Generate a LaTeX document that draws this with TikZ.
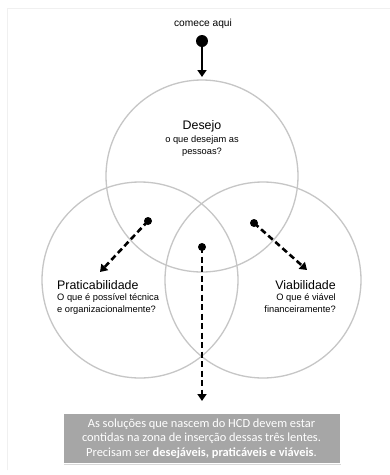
\documentclass[tikz,border=0pt]{standalone}
\usepackage{fontspec}
\setmainfont{Liberation Sans}
\newfontfamily\boxfont{Carlito}
\usetikzlibrary{arrows.meta,shadows}
\begin{document}
\begin{tikzpicture}[x=1pt,y=-1pt,
  lens/.style={draw=gray!45,line width=1.3pt},
  flow/.style={line width=2.6pt,-{Triangle[length=7pt,width=9pt]}},
  dflow/.style={flow,dash pattern=on 6pt off 3.5pt},
  startdot/.style={circle,fill=black,inner sep=0pt,minimum size=#1},
  title/.style={font=\fontsize{12.4}{14}\selectfont,inner sep=0pt},
  sub/.style={font=\fontsize{9.3}{12}\selectfont,inner sep=0pt},
  note/.style={fill=gray!70!white,draw=white,line width=0.8pt,
    drop shadow={shadow xshift=1pt,shadow yshift=-1.5pt,fill=gray!50,opacity=0.6},
    text=white,font=\boxfont\fontsize{12.4}{14.5}\selectfont,
    align=center,minimum width=277pt,minimum height=50pt,inner sep=2pt}]
\useasboundingbox (0,0) rectangle (390,475);
\fill[white] (0,0) rectangle (390,475);
% page frame
\draw[gray!12,line width=0.8pt] (7,470) -- (7,8) -- (390,8);

% the three lenses
\draw[lens] (202,176) circle[radius=96];
\draw[lens] (140,280) circle[radius=98];
\draw[lens] (263,280) circle[radius=98];

% labels
\node[font=\fontsize{10.2}{12}\selectfont,inner sep=0pt] (start) at (203,24) {comece aqui};
\node[title] (desejo) at (202,126) {Desejo};
\node[sub,align=center] (desejosub) at (202,146) {o que desejam as\\pessoas?};
\node[title,anchor=west] (prat) at (57,285) {Praticabilidade};
\node[sub,align=left,anchor=north west] (pratsub) at (57,293.5) {O que é possível técnica\\e organizacionalmente?};
\node[title,anchor=east] (viab) at (336,285) {Viabilidade};
\node[sub,align=right,anchor=north east] (viabsub) at (336,293.5) {O que é viável\\financeiramente?};

% start markers and arrow ends
\node[startdot=12pt] (d0) at (202,41) {};
\coordinate (t0) at (202,77);
\node[startdot=8pt] (d1) at (148,221) {};
\coordinate (t1) at (100,272);
\node[startdot=8pt] (d2) at (254,223) {};
\coordinate (t2) at (307,270);
\node[startdot=8pt] (d3) at (202,247) {};
\coordinate (t3) at (202,401);

\draw[flow] (d0.center) -- (t0);
\draw[dflow] (d1.center) -- (t1);
\draw[dflow] (d2.center) -- (t2);
\draw[dflow] (d3.center) -- (t3);

% conclusion box
\node[note] (box) at (201.5,438.5) {As soluções que nascem do HCD devem estar\\contidas na zona de inserção dessas três lentes.\\Precisam ser \textbf{desejáveis, praticáveis e viáveis}.};
\end{tikzpicture}
\end{document}
